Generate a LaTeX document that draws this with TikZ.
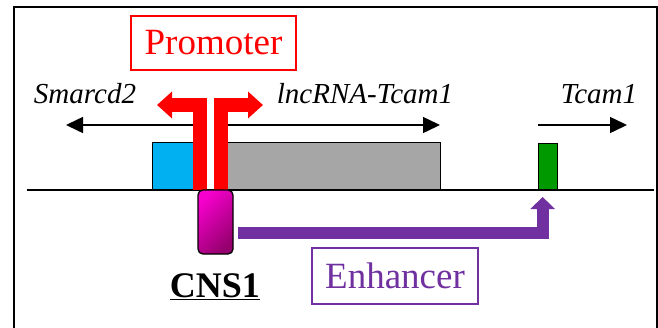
\documentclass[tikz,border=0pt]{standalone}
\usepackage{fontspec}
\setmainfont{Liberation Serif}[ItalicFont={Liberation Serif Italic},BoldFont={Liberation Serif Bold}]
\usetikzlibrary{arrows.meta,positioning,calc}
\definecolor{promred}{HTML}{FF0000}
\definecolor{enhpurple}{HTML}{7030A0}
\definecolor{exonblue}{HTML}{00B0F0}
\definecolor{exongray}{HTML}{A6A6A6}
\definecolor{exongreen}{HTML}{009900}
\definecolor{cnslight}{HTML}{F500CC}
\definecolor{cnsdark}{HTML}{96006E}

\tikzset{
  exon/.style={draw=black,line width=1.3pt,inner sep=0pt,anchor=south west},
  genelabel/.style={font=\fontsize{29}{32}\selectfont\itshape,anchor=base},
  dirarrow/.style={-{Triangle[length=17pt,width=16pt]},line width=1.5pt},
  bigtext/.style={font=\fontsize{37}{40}\selectfont},
}

\begin{document}
\begin{tikzpicture}[x=1pt,y=-1pt]
  \useasboundingbox (0,0) rectangle (658,327);
  \draw[line width=2.5pt] (14,340) -- (14,7) -- (657,7) -- (657,340);

  % exons on the strand
  \node[exon,fill=exonblue,minimum width=41pt,minimum height=47pt] (smexon) at (152,190) {};
  \node[exon,fill=exongray,minimum width=213pt,minimum height=47pt] (lncexon) at (227,190) {};
  \node[exon,fill=exongreen,minimum width=19pt,minimum height=46pt] (tcam) at (538,190) {};
  \draw[line width=2pt] (27,190) -- (654,190);

  % transcription directions
  \coordinate (smstart) at (193,125);
  \coordinate (smend) at (66,125);
  \coordinate (lncstart) at (227,125);
  \coordinate (lncend) at (440,125);
  \coordinate (tcstart) at (538,125);
  \coordinate (tcend) at (627,125);
  \draw[dirarrow] (smstart) -- (smend);
  \draw[dirarrow] (lncstart) -- (lncend);
  \draw[dirarrow] (tcstart) -- (tcend);

  % bidirectional promoter
  \coordinate (tssL) at (200,190);
  \coordinate (tssR) at (220.5,190);
  \coordinate (tipL) at (157,105);
  \coordinate (tipR) at (263,105);
  \draw[promred,line width=14pt,-{Triangle[length=15pt,width=26pt]}] (tssL) |- (tipL);
  \draw[promred,line width=14pt,-{Triangle[length=15pt,width=26pt]}] (tssR) |- (tipR);

  \node[draw,line width=1.3pt,rounded corners=5pt,minimum width=35pt,minimum height=64pt,
        top color=cnslight,bottom color=cnsdark,shading angle=45] (cns) at (215.5,222) {};
  \draw[enhpurple,line width=12pt,-{Triangle[length=12pt,width=24pt]}]
    ([xshift=4pt,yshift=-11pt]cns.east) -| ([xshift=-5.5pt,yshift=-7pt]tcam.south);

  % labels
  \node[genelabel] (smlab) at (85,103) {Smarcd2};
  \node[genelabel] (lnclab) at (365,103) {lncRNA-Tcam1};
  \node[genelabel] (tclab) at (599,103) {Tcam1};
  \node[bigtext,draw=promred,line width=1.5pt,text=promred,minimum width=165pt,minimum height=54pt] (prom) at (213.5,43) {Promoter};
  \node[font=\fontsize{36}{40}\selectfont\bfseries,anchor=base] (cnslab) at (215,297) {\underline{CNS1}};
  \node[bigtext,draw=enhpurple,line width=1.3pt,text=enhpurple,minimum width=166pt,minimum height=56pt] (enh) at (395,276) {Enhancer};
\end{tikzpicture}
\end{document}
